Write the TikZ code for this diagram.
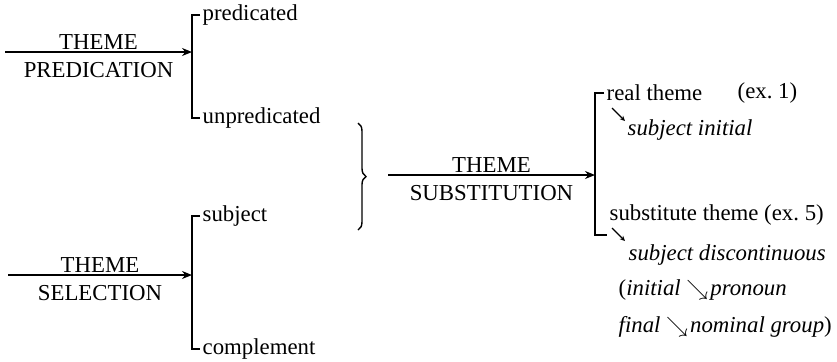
\documentclass[tikz,border=0pt]{standalone}
\usepackage{amssymb}
\usepackage{fontspec}
\setmainfont{Liberation Serif}
\usetikzlibrary{
  arrows.meta,
  decorations.pathreplacing,
  positioning
}

\begin{document}
\begin{tikzpicture}
  [x=0.5pt, y=-0.5pt, line width=0.7pt,
   every node/.style = {font=\fontsize{11.4}{13.5}\selectfont, inner sep=1pt},
   feat/.style = {anchor=west},
   sys/.style = {-{Stealth[length=5pt, width=4pt]}},
   hint/.style = {line width=0.6pt, -{Stealth[length=2.6pt, width=2.4pt]}}]
  \useasboundingbox (0,0) rectangle (837,361);
  % theme predication
  \coordinate (tpS) at (5,52);
  \coordinate (tpE) at (192,52);
  \node (pred)   [feat] at (200,15)  {predicated};
  \node (unpred) [feat] at (200,118) {unpredicated};
  \draw[sys] (tpS) -- node[above]{THEME} node[below=4pt]{PREDICATION} (tpE);
  \draw (pred.west) -| (tpE) |- (unpred.west);
  % theme selection
  \coordinate (tsS) at (8,275);
  \coordinate (tsE) at (192,275);
  \node (subj)  [feat] at (200,216) {subject};
  \node (compl) [feat] at (200,349) {complement};
  \draw[sys] (tsS) -- node[above]{THEME} node[below=4pt]{SELECTION} (tsE);
  \draw (subj.west) -| (tsE) |- (compl.west);
  % brace
  \coordinate (brT) at (358,123);
  \coordinate (brB) at (358,230);
  \draw[decorate, decoration={brace, amplitude=4pt}] (brT) -- (brB);
  % theme substitution
  \coordinate (sbS) at (388,175);
  \coordinate (sbE) at (595,175);
  \coordinate (sbB) at (607,235);
  \node (real) [feat] at (604,93) {real theme};
  \node (ex1)  [right=15pt of real] {(ex.~1)};
  \node (subst) [feat] at (607,215) {substitute theme (ex.~5)};
  \draw[sys] (sbS) -- node[above]{THEME} node[below=4pt]{SUBSTITUTION} (sbE);
  \draw (real.west) -| (sbE) |- (sbB);
  % realisations
  \coordinate (riA) at (612,108);
  \coordinate (riB) at (625,121);
  \node (init) [feat] at (625,130) {\textit{subject initial}};
  \draw[hint] (riA) -- (riB);
  \coordinate (sdA) at (612,228);
  \coordinate (sdB) at (625,241);
  \node (disc) [feat] at (626,255) {\textit{subject discontinuous}};
  \node (pron) [feat] at (616,290) {(\textit{initial} $\searrow$\kern1pt\textit{pronoun}};
  \node (nom)  [feat] at (616,327) {\textit{final} $\searrow$\kern1pt\textit{nominal group})};
  \draw[hint] (sdA) -- (sdB);
\end{tikzpicture}
\end{document}
